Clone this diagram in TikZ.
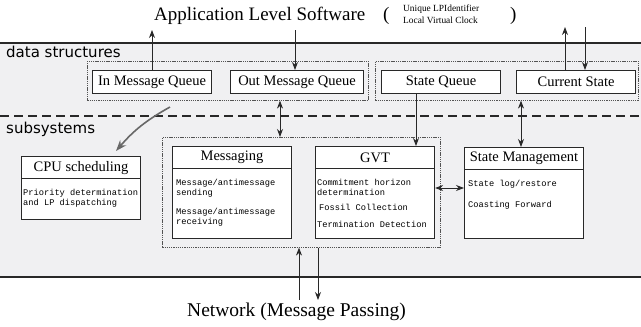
\documentclass[tikz,border=0pt]{standalone}
\usepackage{fontspec}
\setmainfont{Liberation Serif}
\setsansfont{DejaVu Sans}
\setmonofont{Liberation Mono}
\usetikzlibrary{positioning,arrows.meta}
\definecolor{banda}{RGB}{240,240,242}
\definecolor{tinta}{RGB}{40,40,40}
\tikzset{
  cola/.style={draw=tinta, line width=1.1pt, fill=white, inner sep=0pt, anchor=north west,
    minimum height=23pt, font=\fontsize{14.5}{16}\selectfont},
  grupo/.style={draw=tinta!80, line width=0.6pt, dash pattern=on 1.3pt off 0.9pt, inner sep=0pt, anchor=north west},
  modulo/.style={draw=tinta, line width=1.1pt, fill=white, inner sep=0pt, anchor=north west, minimum width=119pt},
  cabeza/.style={draw=tinta, line width=1.1pt, inner sep=0pt, minimum width=119pt, minimum height=22pt,
    font=\fontsize{14.5}{16}\selectfont},
  cuerpo/.style={inner sep=0pt, align=left, font=\ttfamily\fontsize{8.7}{10}\selectfont},
  capa/.style={inner sep=0pt, anchor=base west, font=\sffamily\fontsize{15}{17}\selectfont},
  flecha/.style={draw=tinta, line width=0.9pt, -{Stealth[length=8pt,width=6pt]}},
  doble/.style={draw=tinta, line width=0.9pt, {Stealth[length=8pt,width=6pt]}-{Stealth[length=8pt,width=6pt]}}
}

\begin{document}
\begin{tikzpicture}[x=1pt, y=-1pt]
  \useasboundingbox (0,0) rectangle (641,327);

  % capas
  \fill[banda] (0,43) rectangle (641,277);
  \draw[tinta, line width=1.5pt] (0,43) -- (641,43);
  \draw[tinta, line width=1.5pt] (0,277) -- (641,277);
  \draw[tinta, line width=1.2pt, dash pattern=on 9pt off 5pt] (0,116) -- (641,116);
  \node[capa] (ds) at (6,57) {data structures};
  \node[capa] (ss) at (6,133) {subsystems};

  % titulos
  \node[anchor=base west, inner sep=0pt, font=\fontsize{19}{21}\selectfont] (app) at (154,20) {Application Level Software};
  \node[anchor=base west, inner sep=0pt, font=\fontsize{19}{21}\selectfont] (lp) at (383,20) {(};
  \node[anchor=base west, inner sep=0pt, font=\fontsize{9.4}{11}\selectfont] (id1) at (403,11) {Unique LPIdentifier};
  \node[anchor=base west, inner sep=0pt, font=\fontsize{9.4}{11}\selectfont] (id2) at (403,23) {Local Virtual Clock};
  \node[anchor=base west, inner sep=0pt, font=\fontsize{19}{21}\selectfont] (rp) at (510,20) {)};
  \node[anchor=base west, inner sep=0pt, font=\fontsize{19.5}{21}\selectfont] (net) at (187,316) {Network (Message Passing)};

  % estructuras de datos
  \node[grupo, minimum width=281pt, minimum height=39pt] (dsA) at (87,61) {};
  \node[grupo, minimum width=263pt, minimum height=39pt] (dsB) at (375,61) {};
  \node[cola, minimum width=119pt] (inq) at (92,70) {In Message Queue};
  \node[cola, minimum width=133pt] (outq) at (230,70) {Out Message Queue};
  \node[cola, minimum width=119pt] (stq) at (381,70) {State Queue};
  \node[cola, minimum width=119pt] (cur) at (516,70) {Current State};

  % subsistemas
  \node[grupo, minimum width=278pt, minimum height=110pt] (sub) at (162,137) {};

  \node[modulo, minimum height=63pt] (cpu) at (21,156) {};
  \node[cabeza, below=0pt of cpu.north] (cpuH) {CPU scheduling};
  \node[cuerpo, anchor=north west, below right=10pt and 2pt of cpuH.south west] (cpuT)
    {Priority determination\\and LP dispatching};

  \node[modulo, minimum height=92pt] (msg) at (172,146) {};
  \node[cabeza, below=0pt of msg.north] (msgH) {Messaging};
  \node[cuerpo, anchor=north west, below right=10pt and 4pt of msgH.south west] (msgT)
    {Message/antimessage\\sending\\[9pt]Message/antimessage\\receiving};

  \node[modulo, minimum height=92pt] (gvt) at (315,146) {};
  \node[cabeza, below=0pt of gvt.north] (gvtH) {GVT};
  \node[cuerpo, anchor=north west, below right=10pt and 2pt of gvtH.south west] (gvtT)
    {Commitment horizon\\determination\\[5pt]\hspace*{2pt}Fossil Collection\\[7pt]Termination Detection};

  \node[modulo, minimum height=91pt] (sm) at (464,147) {};
  \node[cabeza, below=0pt of sm.north] (smH) {State Management};
  \node[cuerpo, anchor=north west, below right=10pt and 4pt of smH.south west] (smT)
    {State log/restore\\[11pt]Coasting Forward};

  % conexiones
  \coordinate (aIn) at (152,30);
  \coordinate (aOut) at (295,30);
  \coordinate (aCu) at (565,27);
  \coordinate (aCd) at (585,27);
  \coordinate (aM) at (280,0);
  \coordinate (aS) at (416,0);
  \coordinate (aSm) at (521,0);
  \coordinate (aH) at (0,188);
  \coordinate (nU) at (299,300);
  \coordinate (nD) at (318,300);
  \coordinate (cS) at (170,107);
  \coordinate (cE) at (116,151);

  \draw[flecha] (inq.north -| aIn) -- (aIn);
  \draw[flecha] (aOut) -- (outq.north -| aOut);
  \draw[flecha] (cur.north -| aCu) -- (aCu);
  \draw[flecha] (aCd) -- (cur.north -| aCd);
  \draw[doble] (dsA.south -| aM) -- (sub.north -| aM);
  \draw[flecha] (stq.south -| aS) -- (gvt.north -| aS);
  \draw[doble] (dsB.south -| aSm) -- (sm.north -| aSm);
  \draw[doble] (gvt.east |- aH) -- (sm.west |- aH);
  \draw[flecha] (nU) -- (sub.south -| nU);
  \draw[flecha] (sub.south -| nD) -- (nD);
  \draw[draw=tinta!70, line width=1.6pt, -{Stealth[length=11pt,width=8pt]}] (cS) to[bend right=10] (cE);
\end{tikzpicture}
\end{document}
